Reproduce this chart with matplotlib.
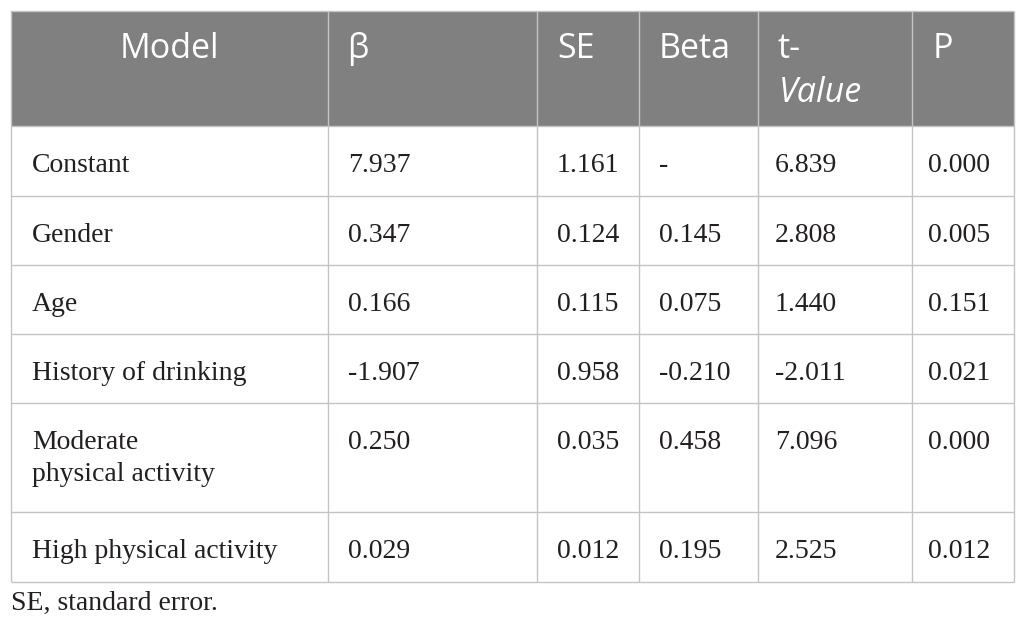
import matplotlib
matplotlib.use('Agg')
import matplotlib.pyplot as plt
from matplotlib.patches import Rectangle

# table content
headers = ['Model', 'β', 'SE', 'Beta', 't-', 'P']
row_labels = ['Constant', 'Gender', 'Age', 'History of drinking',
              'Moderate\nphysical activity', 'High physical activity']
beta_raw = ['7.937', '0.347', '0.166', '-1.907', '0.250', '0.029']
se = ['1.161', '0.124', '0.115', '0.958', '0.035', '0.012']
beta_std = ['-', '0.145', '0.075', '-0.210', '0.458', '0.195']
t_value = ['6.839', '2.808', '1.440', '-2.011', '7.096', '2.525']
p_value = ['0.000', '0.005', '0.151', '0.021', '0.000', '0.012']
footnote = 'SE, standard error.'

# layout in pixels
W, H = 1026, 631
col_edges = [11, 328, 537, 639, 758, 912, 1014]
row_edges = [11, 126, 196, 265, 334, 403, 512, 582]
text_x = [32, 348, 557, 659, 775, 928]
head_x = [32, 347, 557, 659, 777, 933]

header_bg = '#808080'
line_col = '#c4c4c4'
ink = '#231f20'
serif = 'Liberation Serif'
sans = 'Open Sans'

fig = plt.figure(figsize=(W / 100, H / 100), dpi=100)
ax = fig.add_axes([0, 0, 1, 1])
ax.set_xlim(0, W)
ax.set_ylim(H, 0)
ax.axis('off')

ax.add_patch(Rectangle((col_edges[0], row_edges[0]),
                       col_edges[-1] - col_edges[0], row_edges[1] - row_edges[0],
                       facecolor=header_bg, edgecolor='none', zorder=1))

# grid lines
for x in col_edges:
    ax.plot([x, x], [row_edges[0], row_edges[-1]], color=line_col, lw=1.0,
            zorder=2, solid_capstyle='butt')
for y in row_edges:
    ax.plot([col_edges[0], col_edges[-1]], [y, y], color=line_col, lw=1.0,
            zorder=2, solid_capstyle='butt')

# header
hsize = 24.5
ax.text((col_edges[0] + col_edges[1]) / 2, 58, headers[0], ha='center',
        va='baseline', color='white', fontsize=hsize, family=sans, zorder=3)
for i in range(1, len(headers)):
    ax.text(head_x[i], 58, headers[i], ha='left', va='baseline', color='white',
            fontsize=hsize, family=sans, zorder=3)
ax.text(head_x[4] + 2, 102, 'Value', ha='left', va='baseline', color='white',
        fontsize=hsize, family=sans, style='italic', zorder=3)

# body
bsize = 20
columns = [row_labels, beta_raw, se, beta_std, t_value, p_value]
for r in range(len(row_labels)):
    base = row_edges[r + 1] + 46
    for c, col in enumerate(columns):
        lines = col[r].split('\n')
        for k, line in enumerate(lines):
            ax.text(text_x[c], base + 32 * k, line, ha='left', va='baseline',
                    color=ink, fontsize=bsize, family=serif, zorder=3)

ax.text(11, 610, footnote, ha='left', va='baseline', color=ink,
        fontsize=bsize, family=serif)

fig.savefig('out.png', dpi=100, facecolor='white')
